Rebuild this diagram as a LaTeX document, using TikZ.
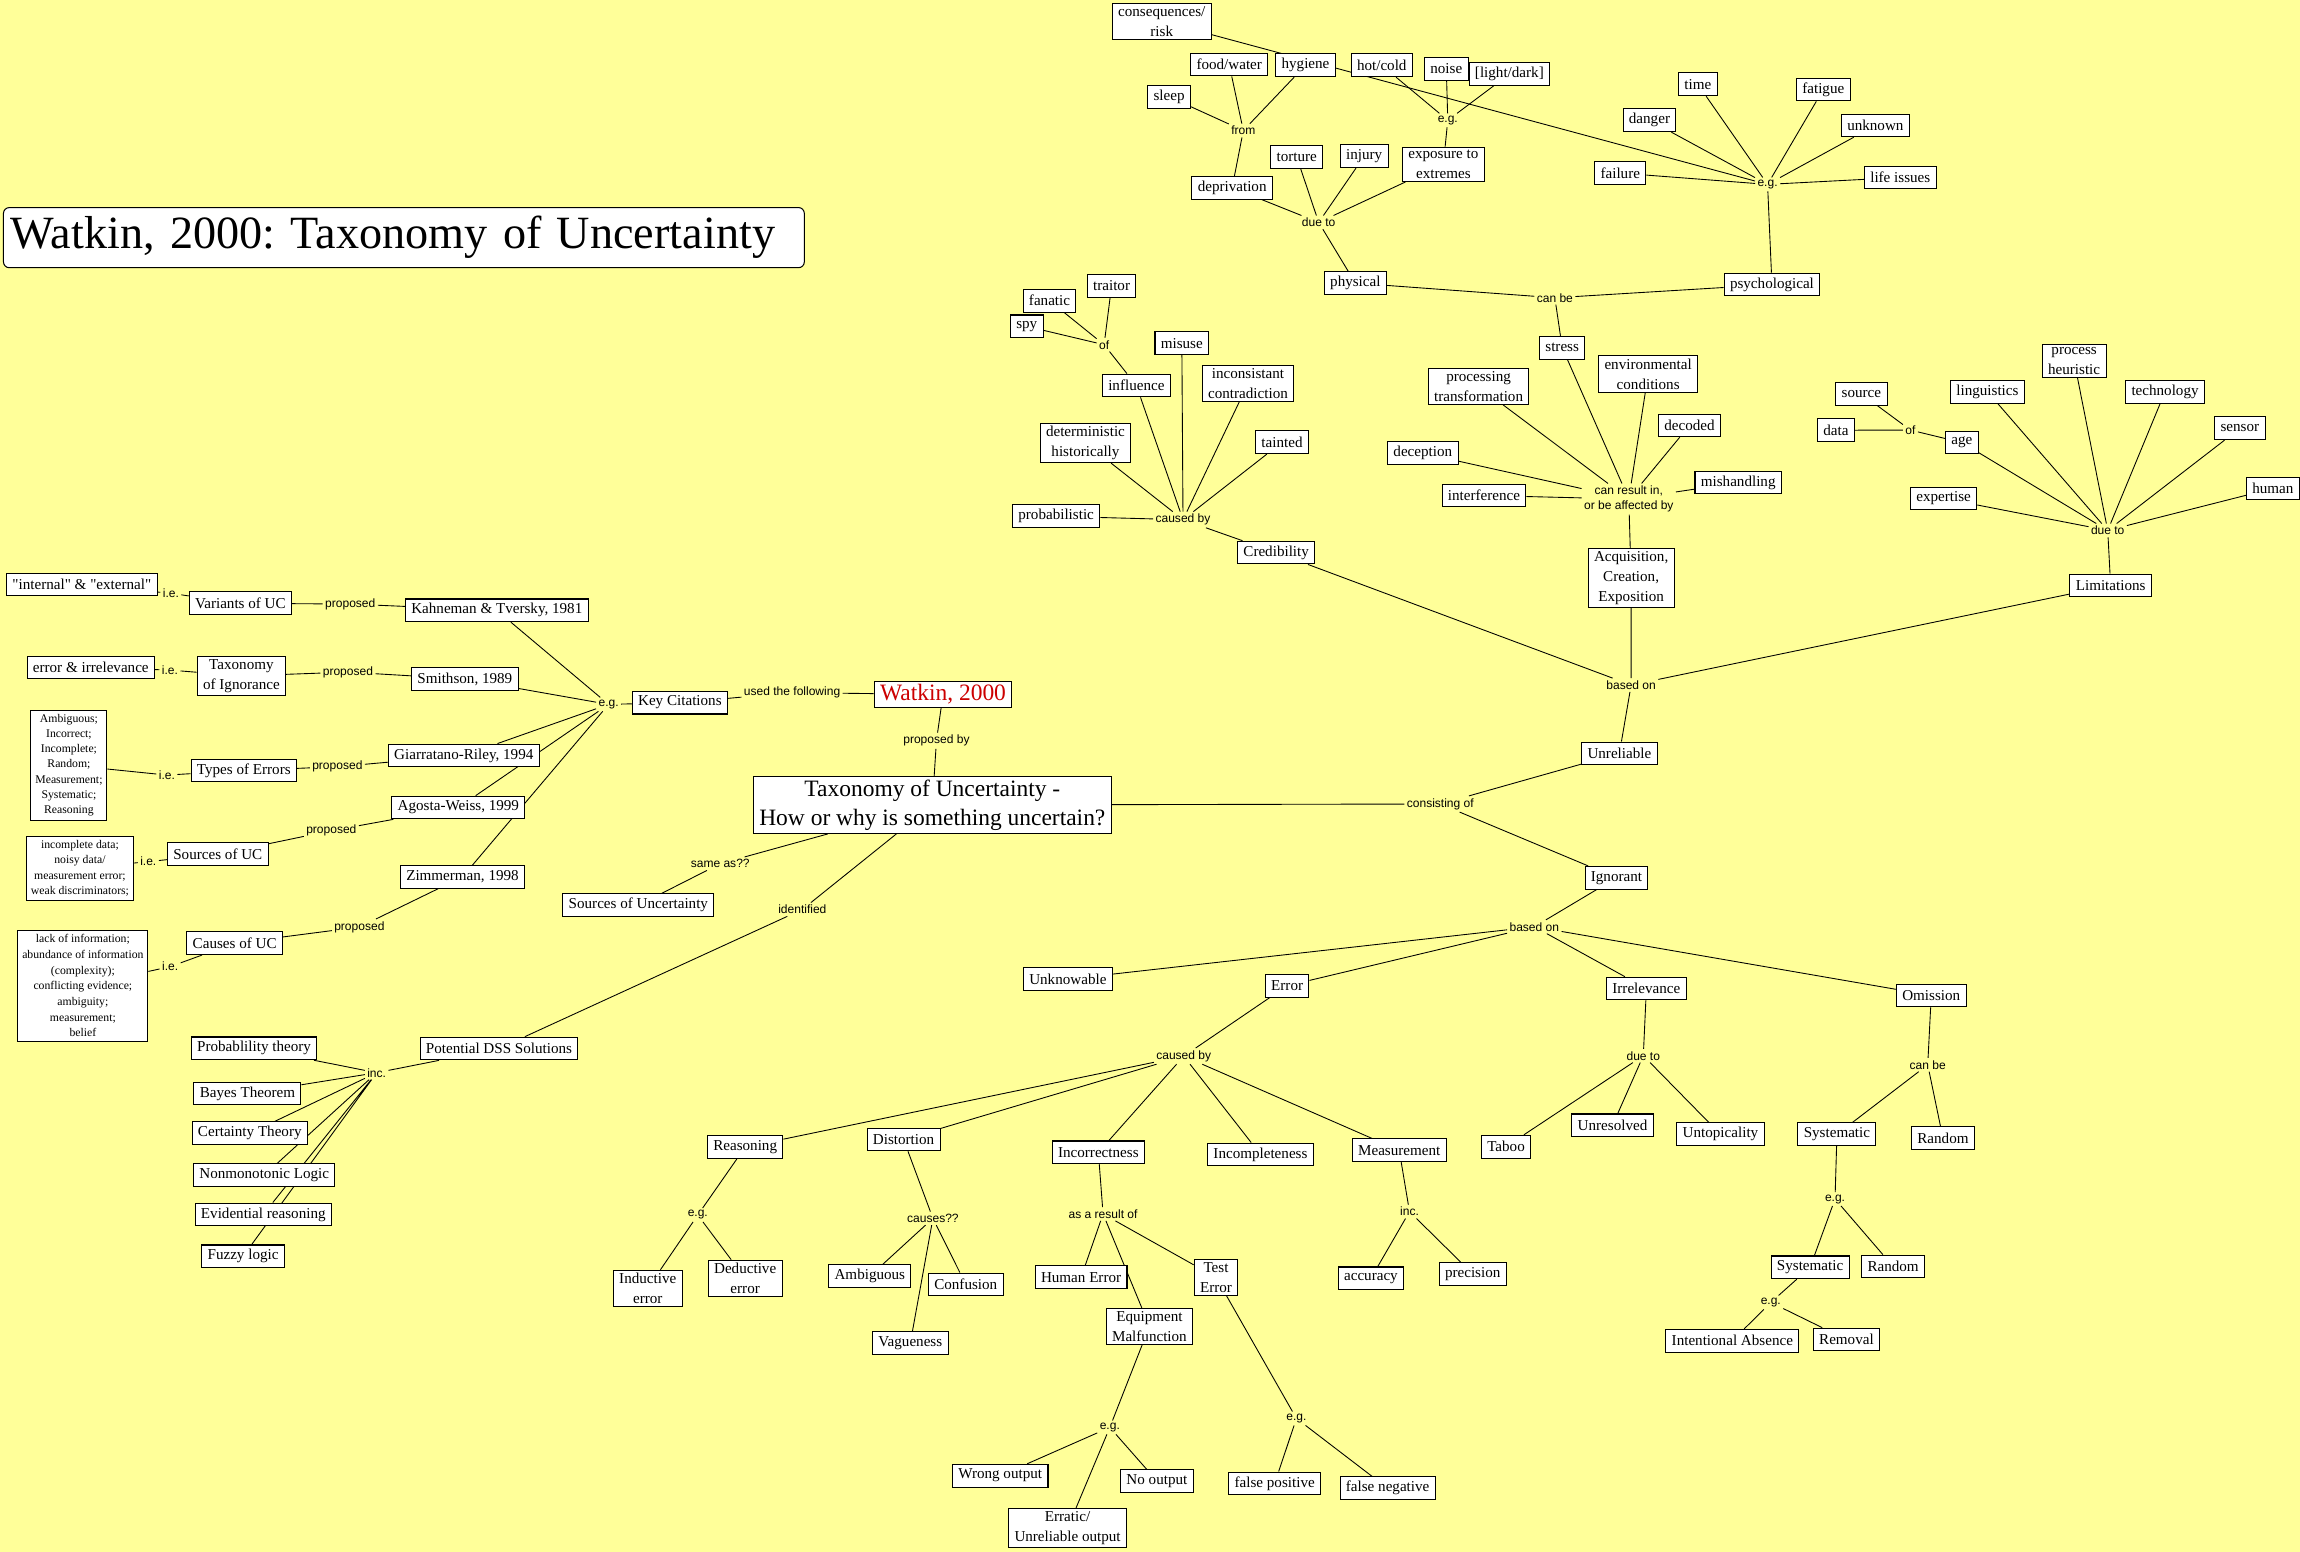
\documentclass[tikz,border=0pt]{standalone}
\usepackage{fontspec}
\setmainfont{Liberation Serif}
\newfontfamily\boxfont{Liberation Serif}
\newfontfamily\lblfont{Liberation Sans}
\usepackage{tikz}
\usetikzlibrary{backgrounds}
\definecolor{mapyellow}{RGB}{255,255,153}
\definecolor{mapred}{RGB}{204,0,0}
\frenchspacing

\begin{document}
\begin{tikzpicture}[x=1pt, y=-1pt,
  concept/.style={rectangle, draw=black, line width=0.7pt, fill=white, align=center,
                  font=\boxfont\fontsize{10.3}{13.5}\selectfont, inner xsep=4pt, inner ysep=2pt, minimum height=15.5pt},
  listbox/.style={concept, font=\boxfont\fontsize{8}{10.3}\selectfont, inner sep=3pt},
  linkword/.style={font=\lblfont\fontsize{8.2}{10.2}\selectfont, inner sep=1.5pt, align=center},
  conn/.style={draw=black, line width=0.6pt},
]
\useasboundingbox (0,0) rectangle (1568,1058);
\begin{scope}[on background layer]
  \fill[mapyellow] (0,0) rectangle (1568,1058);
\end{scope}

% title
\node[concept, rounded corners=4pt, anchor=west, text width=536pt, align=left, inner xsep=5pt,
      minimum height=41pt, font=\boxfont\fontsize{31.5}{36}\selectfont] (title) at (2,162) {Watkin, 2000: Taxonomy of Uncertainty};

% centre
\node[concept, font=\boxfont\fontsize{16}{20}\selectfont] (tax) at (635.6,548.8) {Taxonomy of Uncertainty -\\How or why is something uncertain?};
\node[concept, font=\boxfont\fontsize{16}{20}\selectfont, text=mapred] (watkin) at (642.9,473.4) {Watkin, 2000};
\node[linkword] (propby) at (638.4,505) {proposed by};
\node[linkword] (usedf) at (540,472.2) {used the following};
\node[concept] (keycit) at (463.5,479) {Key Citations};
\node[linkword] (egcit) at (414.9,480.2) {e.g.};
\node[linkword] (sameas) at (491,588.8) {same as??};
\node[concept] (srcunc) at (435.2,617.1) {Sources of Uncertainty};
\node[linkword] (ident) at (547,620) {identified};
\node[concept] (dss) at (340.2,714.8) {Potential DSS Solutions};
\node[linkword] (incdss) at (256.8,731.3) {inc.};

% key citations
\node[concept] (kahn) at (338.7,416.1) {Kahneman \& Tversky, 1981};
\node[concept] (smith) at (316.9,462.9) {Smithson, 1989};
\node[concept] (giarr) at (316.2,515) {Giarratano-Riley, 1994};
\node[concept] (agosta) at (312.5,550.5) {Agosta-Weiss, 1999};
\node[concept] (zimm) at (315.3,597.8) {Zimmerman, 1998};
\node[linkword] (prop1) at (238.8,411.8) {proposed};
\node[linkword] (prop2) at (237.2,458.2) {proposed};
\node[linkword] (prop3) at (230,522.7) {proposed};
\node[linkword] (prop4) at (225.9,566.3) {proposed};
\node[linkword] (prop5) at (245,632) {proposed};
\node[concept] (variants) at (163.9,411.3) {Variants of UC};
\node[concept] (taxign) at (164.6,460.8) {Taxonomy\\of Ignorance};
\node[concept] (types) at (166.2,525.3) {Types of Errors};
\node[concept] (srcuc) at (148.5,582.4) {Sources of UC};
\node[concept] (causuc) at (160,643) {Causes of UC};
\node[linkword] (ie1) at (116.5,404.5) {i.e.};
\node[linkword] (ie2) at (115.9,456.8) {i.e.};
\node[linkword] (ie3) at (113.8,528.4) {i.e.};
\node[linkword] (ie4) at (101.1,587.4) {i.e.};
\node[linkword] (ie5) at (116,659) {i.e.};
\node[concept] (intext) at (55.8,398.5) {"internal" \& "external"};
\node[concept] (errirr) at (61.9,455.1) {error \& irrelevance};
\node[listbox] (errlist) at (47,521.6) {Ambiguous;\\Incorrect;\\Incomplete;\\Random;\\Measurement;\\Systematic;\\Reasoning};
\node[listbox] (srclist) at (54.5,592) {incomplete data;\\noisy data/\\measurement error;\\weak discriminators;};
\node[listbox, font=\boxfont\fontsize{8}{10.7}\selectfont] (causlist) at (56.5,672) {lack of information;\\abundance of information\\(complexity);\\conflicting evidence;\\ambiguity;\\measurement;\\belief};

% potential DSS solutions
\node[concept] (prob) at (173.2,714.7) {Probablility theory};
\node[concept] (bayes) at (168.7,745.4) {Bayes Theorem};
\node[concept] (certain) at (170.3,772.6) {Certainty Theory};
\node[concept] (nonmono) at (180.1,801.2) {Nonmonotonic Logic};
\node[concept] (evid) at (179.5,827.9) {Evidential reasoning};
\node[concept] (fuzzy) at (165.7,856.5) {Fuzzy logic};

% unreliable branch
\node[linkword] (consist) at (981.9,548.1) {consisting of};
\node[concept] (unrel) at (1104,513.6) {Unreliable};
\node[concept] (ignor) at (1102,598.4) {Ignorant};
\node[linkword] (basedA) at (1112,467) {based on};
\node[concept] (cred) at (870,376.7) {Credibility};
\node[concept] (acq) at (1112,394) {Acquisition,\\Creation,\\Exposition};
\node[concept] (limit) at (1438.9,399.2) {Limitations};

\node[linkword] (causA) at (806.5,354.3) {caused by};
\node[concept] (probab) at (720,352) {probabilistic};
\node[concept] (determ) at (740,302) {deterministic\\historically};
\node[concept] (influ) at (774.7,262.8) {influence};
\node[concept] (misuse) at (805.7,234) {misuse};
\node[concept] (incons) at (850.8,261.5) {inconsistant\\contradiction};
\node[concept] (tainted) at (874,301.5) {tainted};
\node[linkword] (ofA) at (752.7,235) {of};
\node[concept] (spy) at (700,222.5) {spy};
\node[concept] (fanatic) at (715.5,205) {fanatic};
\node[concept] (traitor) at (757.8,195) {traitor};

\node[linkword] (canres) at (1110.4,340.2) {can result in,\\or be affected by};
\node[concept] (stress) at (1065,237) {stress};
\node[concept] (proctr) at (1008,263.5) {processing\\transformation};
\node[concept] (envc) at (1123.6,255) {environmental\\conditions};
\node[concept] (decoded) at (1151.8,290) {decoded};
\node[concept] (decep) at (970,309) {deception};
\node[concept] (interf) at (1011.7,337.8) {interference};
\node[concept] (mishand) at (1185,329) {mishandling};

\node[linkword] (canbeA) at (1060,203) {can be};
\node[concept] (phys) at (924,193) {physical};
\node[concept] (psych) at (1208,194) {psychological};
\node[linkword] (duetoA) at (899,151.6) {due to};
\node[concept] (depr) at (840,128) {deprivation};
\node[concept] (torture) at (884,107) {torture};
\node[concept] (injury) at (930,106.5) {injury};
\node[concept] (expo) at (984,112) {exposure to\\extremes};
\node[linkword] (fromA) at (847.6,89) {from};
\node[concept] (sleep) at (797,66) {sleep};
\node[concept] (food) at (838,44) {food/water};
\node[concept] (hyg) at (890,44.5) {hygiene};
\node[linkword] (egA) at (987,82) {e.g.};
\node[concept] (hotcold) at (942,44.5) {hot/cold};
\node[concept] (noise) at (986,47) {noise};
\node[concept] (light) at (1029,50.5) {[light/dark]};
\node[concept] (conseq) at (792,14.5) {consequences/\\risk};
\node[linkword] (egB) at (1205,125.7) {e.g.};
\node[concept] (time) at (1157.5,57.5) {time};
\node[concept] (fatigue) at (1243,61) {fatigue};
\node[concept] (danger) at (1124.5,82) {danger};
\node[concept] (unknown) at (1278.5,85.5) {unknown};
\node[concept] (failure) at (1104.6,118) {failure};
\node[concept] (life) at (1295.5,121) {life issues};

\node[linkword] (duetoB) at (1436.9,361.6) {due to};
\node[concept] (expert) at (1325,339.8) {expertise};
\node[concept] (age) at (1337.5,301.7) {age};
\node[linkword] (ofB) at (1302.4,293.2) {of};
\node[concept] (data) at (1251.6,293.3) {data};
\node[concept] (source) at (1269,268.5) {source};
\node[concept] (ling) at (1354.9,267) {linguistics};
\node[concept] (prochr) at (1414,246) {process\\heuristic};
\node[concept] (tech) at (1476,267) {technology};
\node[concept] (sensor) at (1527,292) {sensor};
\node[concept] (human) at (1549.5,333) {human};

% ignorant branch
\node[linkword] (basedB) at (1046,631.8) {based on};
\node[concept] (unknowable) at (728,667.5) {Unknowable};
\node[concept] (error) at (877.5,672) {Error};
\node[concept] (irrel) at (1122.4,673.9) {Irrelevance};
\node[concept] (omiss) at (1316.6,678.6) {Omission};

\node[linkword] (causB) at (807,720) {caused by};
\node[concept] (reason) at (508,782) {Reasoning};
\node[concept] (distort) at (616,776.8) {Distortion};
\node[concept] (incorr) at (748.8,785.6) {Incorrectness};
\node[concept] (incompl) at (859.3,787) {Incompleteness};
\node[concept] (measure) at (953.9,784.2) {Measurement};
\node[linkword] (egC) at (475.7,828.3) {e.g.};
\node[concept] (induct) at (441.6,878.3) {Inductive\\error};
\node[concept] (deduct) at (508,871.5) {Deductive\\error};
\node[linkword] (causes) at (636,830.6) {causes??};
\node[concept] (ambig) at (593,870) {Ambiguous};
\node[concept] (confus) at (658.4,875.6) {Confusion};
\node[concept] (vague) at (620.6,915.5) {Vagueness};
\node[linkword] (asres) at (752,827.6) {as a result of};
\node[concept] (humerr) at (737,870.8) {Human Error};
\node[concept] (testerr) at (829,870.8) {Test\\Error};
\node[concept] (equip) at (783.6,904.2) {Equipment\\Malfunction};
\node[linkword] (egD) at (756.6,973.1) {e.g.};
\node[concept] (wrong) at (681.9,1006) {Wrong output};
\node[concept] (noout) at (788.7,1009.6) {No output};
\node[concept] (erratic) at (727.8,1041.8) {Erratic/\\Unreliable output};
\node[linkword] (egE) at (883.8,967) {e.g.};
\node[concept] (fpos) at (869,1011.3) {false positive};
\node[concept] (fneg) at (946,1014.6) {false negative};
\node[linkword] (incM) at (960.9,826) {inc.};
\node[concept] (accur) at (934.6,871.5) {accuracy};
\node[concept] (precis) at (1004,868.5) {precision};

\node[linkword] (duetoC) at (1120.3,719.7) {due to};
\node[concept] (taboo) at (1026.7,781.7) {Taboo};
\node[concept] (unres) at (1099.3,767.2) {Unresolved};
\node[concept] (untop) at (1172.9,773.3) {Untopicality};
\node[linkword] (canbeB) at (1314.2,725.9) {can be};
\node[concept] (systA) at (1252.3,773.3) {Systematic};
\node[concept] (randA) at (1324.6,776) {Random};
\node[linkword] (egF) at (1251,817.4) {e.g.};
\node[concept] (systB) at (1234,864) {Systematic};
\node[concept] (randB) at (1290.6,863.4) {Random};
\node[linkword] (egG) at (1207.2,887.9) {e.g.};
\node[concept] (intent) at (1181,914) {Intentional Absence};
\node[concept] (removal) at (1258.8,913.2) {Removal};

% connectors (behind the boxes)
\begin{scope}[on background layer]
\draw[conn] (keycit) -- (usedf) -- (watkin);
\draw[conn] (watkin) -- (propby) -- (tax);
\draw[conn] (egcit) -- (keycit);
\draw[conn] (tax) -- (sameas) -- (srcunc);
\draw[conn] (tax) -- (ident) -- (dss) -- (incdss);
\draw[conn] (incdss) -- (prob) (incdss) -- (bayes) (incdss) -- (certain)
  (incdss) -- (nonmono) (incdss) -- (evid) (incdss) -- (fuzzy);
\draw[conn] (kahn) -- (egcit) (smith) -- (egcit) (giarr) -- (egcit)
  (agosta) -- (egcit) (zimm) -- (egcit);
\draw[conn] (intext) -- (ie1) -- (variants) -- (prop1) -- (kahn);
\draw[conn] (errirr) -- (ie2) -- (taxign) -- (prop2) -- (smith);
\draw[conn] (errlist) -- (ie3) -- (types) -- (prop3) -- (giarr);
\draw[conn] (srclist) -- (ie4) -- (srcuc) -- (prop4) -- (agosta);
\draw[conn] (causlist) -- (ie5) -- (causuc) -- (prop5) -- (zimm);

\draw[conn] (tax) -- (consist);
\draw[conn] (consist) -- (unrel) (consist) -- (ignor);
\draw[conn] (unrel) -- (basedA);
\draw[conn] (basedA) -- (cred) (basedA) -- (acq) (basedA) -- (limit);
\draw[conn] (cred) -- (causA);
\draw[conn] (causA) -- (probab) (causA) -- (determ) (causA) -- (influ)
  (causA) -- (misuse) (causA) -- (incons) (causA) -- (tainted);
\draw[conn] (influ) -- (ofA);
\draw[conn] (ofA) -- (spy) (ofA) -- (fanatic) (ofA) -- (traitor);
\draw[conn] (acq) -- (canres);
\draw[conn] (canres) -- (stress) (canres) -- (proctr) (canres) -- (envc) (canres) -- (decoded)
  (canres) -- (decep) (canres) -- (interf) (canres) -- (mishand);
\draw[conn] (stress) -- (canbeA);
\draw[conn] (canbeA) -- (phys) (canbeA) -- (psych);
\draw[conn] (phys) -- (duetoA);
\draw[conn] (duetoA) -- (depr) (duetoA) -- (torture) (duetoA) -- (injury) (duetoA) -- (expo);
\draw[conn] (depr) -- (fromA);
\draw[conn] (fromA) -- (sleep) (fromA) -- (food) (fromA) -- (hyg);
\draw[conn] (expo) -- (egA);
\draw[conn] (egA) -- (hotcold) (egA) -- (noise) (egA) -- (light);
\draw[conn] (psych) -- (egB);
\draw[conn] (egB) -- (conseq) (egB) -- (time) (egB) -- (fatigue) (egB) -- (danger)
  (egB) -- (unknown) (egB) -- (failure) (egB) -- (life);
\draw[conn] (limit) -- (duetoB);
\draw[conn] (duetoB) -- (expert) (duetoB) -- (age) (duetoB) -- (ling) (duetoB) -- (prochr)
  (duetoB) -- (tech) (duetoB) -- (sensor) (duetoB) -- (human);
\draw[conn] (age) -- (ofB);
\draw[conn] (ofB) -- (data) (ofB) -- (source);

\draw[conn] (ignor) -- (basedB);
\draw[conn] (basedB) -- (unknowable) (basedB) -- (error) (basedB) -- (irrel) (basedB) -- (omiss);
\draw[conn] (error) -- (causB);
\draw[conn] (causB) -- (reason) (causB) -- (distort) (causB) -- (incorr)
  (causB) -- (incompl) (causB) -- (measure);
\draw[conn] (reason) -- (egC);
\draw[conn] (egC) -- (induct) (egC) -- (deduct);
\draw[conn] (distort) -- (causes);
\draw[conn] (causes) -- (ambig) (causes) -- (confus) (causes) -- (vague);
\draw[conn] (incorr) -- (asres);
\draw[conn] (asres) -- (humerr) (asres) -- (equip) (asres) -- (testerr);
\draw[conn] (equip) -- (egD);
\draw[conn] (egD) -- (wrong) (egD) -- (noout) (egD) -- (erratic);
\draw[conn] (testerr) -- (egE);
\draw[conn] (egE) -- (fpos) (egE) -- (fneg);
\draw[conn] (measure) -- (incM);
\draw[conn] (incM) -- (accur) (incM) -- (precis);
\draw[conn] (irrel) -- (duetoC);
\draw[conn] (duetoC) -- (taboo) (duetoC) -- (unres) (duetoC) -- (untop);
\draw[conn] (omiss) -- (canbeB);
\draw[conn] (canbeB) -- (systA) (canbeB) -- (randA);
\draw[conn] (systA) -- (egF);
\draw[conn] (egF) -- (systB) (egF) -- (randB);
\draw[conn] (systB) -- (egG);
\draw[conn] (egG) -- (intent) (egG) -- (removal);
\end{scope}
\end{tikzpicture}
\end{document}
